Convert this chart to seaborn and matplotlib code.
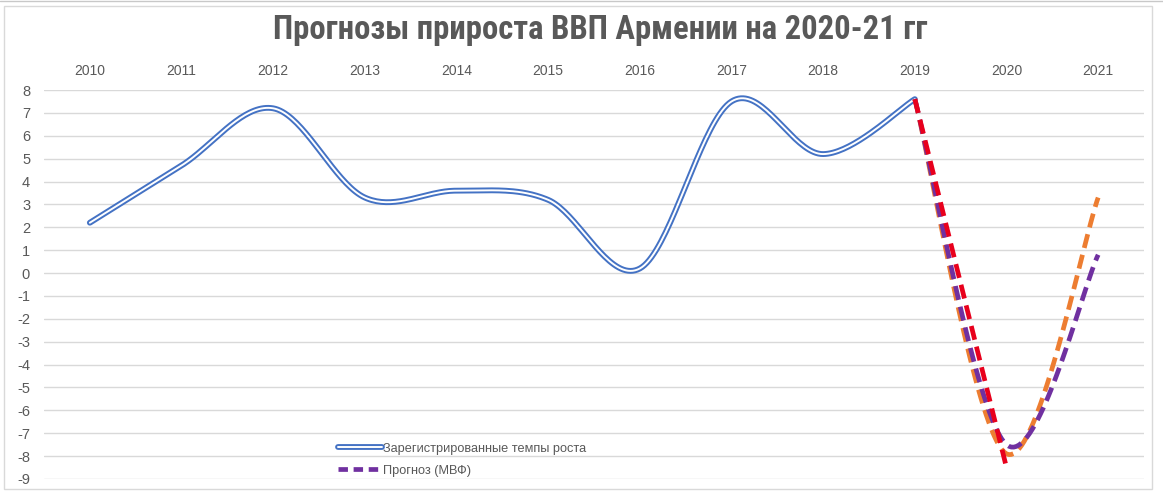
import numpy as np
import pandas as pd
import matplotlib
matplotlib.use("Agg")
import matplotlib.pyplot as plt
import seaborn as sns
from matplotlib.lines import Line2D
from matplotlib.patches import Rectangle
from matplotlib.legend_handler import HandlerTuple
from matplotlib import font_manager

# --- data ---------------------------------------------------------------
years = [2010, 2011, 2012, 2013, 2014, 2015, 2016, 2017, 2018, 2019, 2020, 2021]
actual_years = [2010, 2011, 2012, 2013, 2014, 2015, 2016, 2017, 2018, 2019]
actual_growth = [2.2, 4.7, 7.2, 3.3, 3.6, 3.2, 0.2, 7.5, 5.2, 7.6]

imf_years = [2019, 2020, 2021]
imf_growth = [7.6, -7.5, 0.8]

alt_years = [2019, 2020, 2021]
alt_growth = [7.6, -7.9, 3.3]

low_years = [2019, 2020]
low_growth = [7.6, -8.5]

title = "Прогнозы прироста ВВП Армении на 2020-21 гг"
label_actual = "Зарегистрированные темпы роста"
label_imf = "Прогноз (МВФ)"

# --- helpers -----------------------------------------------------------
def smooth(xv, yv, n=40):
    """Office-style smoothed line: cubic Bezier segments with 1/6 tangents."""
    x = np.asarray(xv, float)
    y = np.asarray(yv, float)
    if len(x) < 3:
        return x, y
    px = np.concatenate([[x[0]], x, [x[-1]]])
    py = np.concatenate([[y[0]], y, [y[-1]]])
    ox, oy = [], []
    t = np.linspace(0, 1, n)
    for i in range(1, len(px) - 2):
        p0 = np.array([px[i], py[i]])
        p3 = np.array([px[i + 1], py[i + 1]])
        c1 = p0 + (np.array([px[i + 1], py[i + 1]]) - np.array([px[i - 1], py[i - 1]])) / 6
        c2 = p3 - (np.array([px[i + 2], py[i + 2]]) - np.array([px[i], py[i]])) / 6
        b = ((1 - t) ** 3)[:, None] * p0 + (3 * (1 - t) ** 2 * t)[:, None] * c1 \
            + (3 * (1 - t) * t ** 2)[:, None] * c2 + (t ** 3)[:, None] * p3
        if i > 1:
            b = b[1:]
        ox.append(b[:, 0])
        oy.append(b[:, 1])
    return np.concatenate(ox), np.concatenate(oy)


def to_pos(yrs):
    return [years.index(v) for v in yrs]


# --- style -------------------------------------------------------------
sns.set_theme(style="white")
names = {f.name for f in font_manager.fontManager.ttflist}
narrow = "Liberation Sans Narrow" if "Liberation Sans Narrow" in names else "Roboto Condensed" if "Roboto Condensed" in names else "Liberation Sans"
plt.rcParams["font.family"] = ["Liberation Sans", "DejaVu Sans"]

text_color = "#595959"
blue = "#4472C4"
purple = "#7030A0"
orange = "#ED7D31"
red = "#E8001C"

fig = plt.figure(figsize=(11.63, 4.95), dpi=100)
W, H = 1163, 495
ax = fig.add_axes([44 / W, (H - 479) / H, (1144 - 44) / W, (479 - 90) / H])

# --- series ------------------------------------------------------------
sx, sy = smooth(to_pos(actual_years), actual_growth)
df_actual = pd.DataFrame({"x": sx, "y": sy})
sns.lineplot(data=df_actual, x="x", y="y", sort=False, estimator=None, ax=ax,
             color=blue, linewidth=4.2, solid_capstyle="round", zorder=3)
sns.lineplot(data=df_actual, x="x", y="y", sort=False, estimator=None, ax=ax,
             color="white", linewidth=1.4, solid_capstyle="round", zorder=4)

dash = (3.0, 1.5)
for yrs, vals, col, z in [(alt_years, alt_growth, orange, 5),
                          (imf_years, imf_growth, purple, 6),
                          (low_years, low_growth, red, 7)]:
    fx, fy = smooth(to_pos(yrs), vals)
    d = pd.DataFrame({"x": fx, "y": fy})
    sns.lineplot(data=d, x="x", y="y", sort=False, estimator=None, ax=ax,
                 color=col, linewidth=3.4, zorder=z)
    ax.lines[-1].set_dashes(dash)

# --- axes --------------------------------------------------------------
ax.set_xlim(-0.5, len(years) - 0.5)
ax.set_ylim(-9, 8)
ax.set_xticks(range(len(years)))
ax.set_xticklabels([str(y) for y in years])
ax.set_yticks(range(-9, 9))
ax.set_yticklabels([str(v) for v in range(-9, 9)])
ax.xaxis.tick_top()
ax.tick_params(axis="x", length=0, pad=9, labelsize=10, labelcolor=text_color)
ax.tick_params(axis="y", length=0, pad=10, labelsize=10.5, labelcolor=text_color)
ax.set_xlabel("")
ax.set_ylabel("")
ax.grid(axis="y", color="#d9d9d9", linewidth=1.0)
ax.grid(axis="x", visible=False)
ax.set_axisbelow(True)
for s in ax.spines.values():
    s.set_visible(False)
ax.set_facecolor("none")

# --- legend ------------------------------------------------------------
h_actual = (Line2D([], [], color=blue, linewidth=4.2, solid_capstyle="round"),
            Line2D([], [], color="white", linewidth=1.4, solid_capstyle="round"))
h_imf = Line2D([], [], color=purple, linewidth=3.4, dashes=(2.0, 1.2))
leg = ax.legend([h_actual, h_imf], [label_actual, label_imf],
                handler_map={tuple: HandlerTuple(ndivide=1)},
                loc="lower left", bbox_to_anchor=((333 - 44) / 1100, (479 - 482) / 389),
                frameon=False, fontsize=9.2, handlelength=3.4, handletextpad=0.15,
                labelspacing=0.78, borderaxespad=0)
for t in leg.get_texts():
    t.set_color(text_color)

# --- title and frame ---------------------------------------------------
fig.text(600 / W, (H - 30) / H, title, ha="center", va="center",
         fontsize=23.6, fontweight="bold", color=text_color, family=[narrow, "DejaVu Sans"])
fig.add_artist(Rectangle((4 / W, (H - 489) / H), (1152 - 4) / W, (489 - 6) / H,
                         transform=fig.transFigure, fill=False,
                         edgecolor="#d9d9d9", linewidth=1.0))
fig.add_artist(Line2D([0, 1], [(H - 0.8) / H] * 2, transform=fig.transFigure,
                      color="#c8c8c8", linewidth=1.0))

fig.savefig("out.png", dpi=100, facecolor="white")
